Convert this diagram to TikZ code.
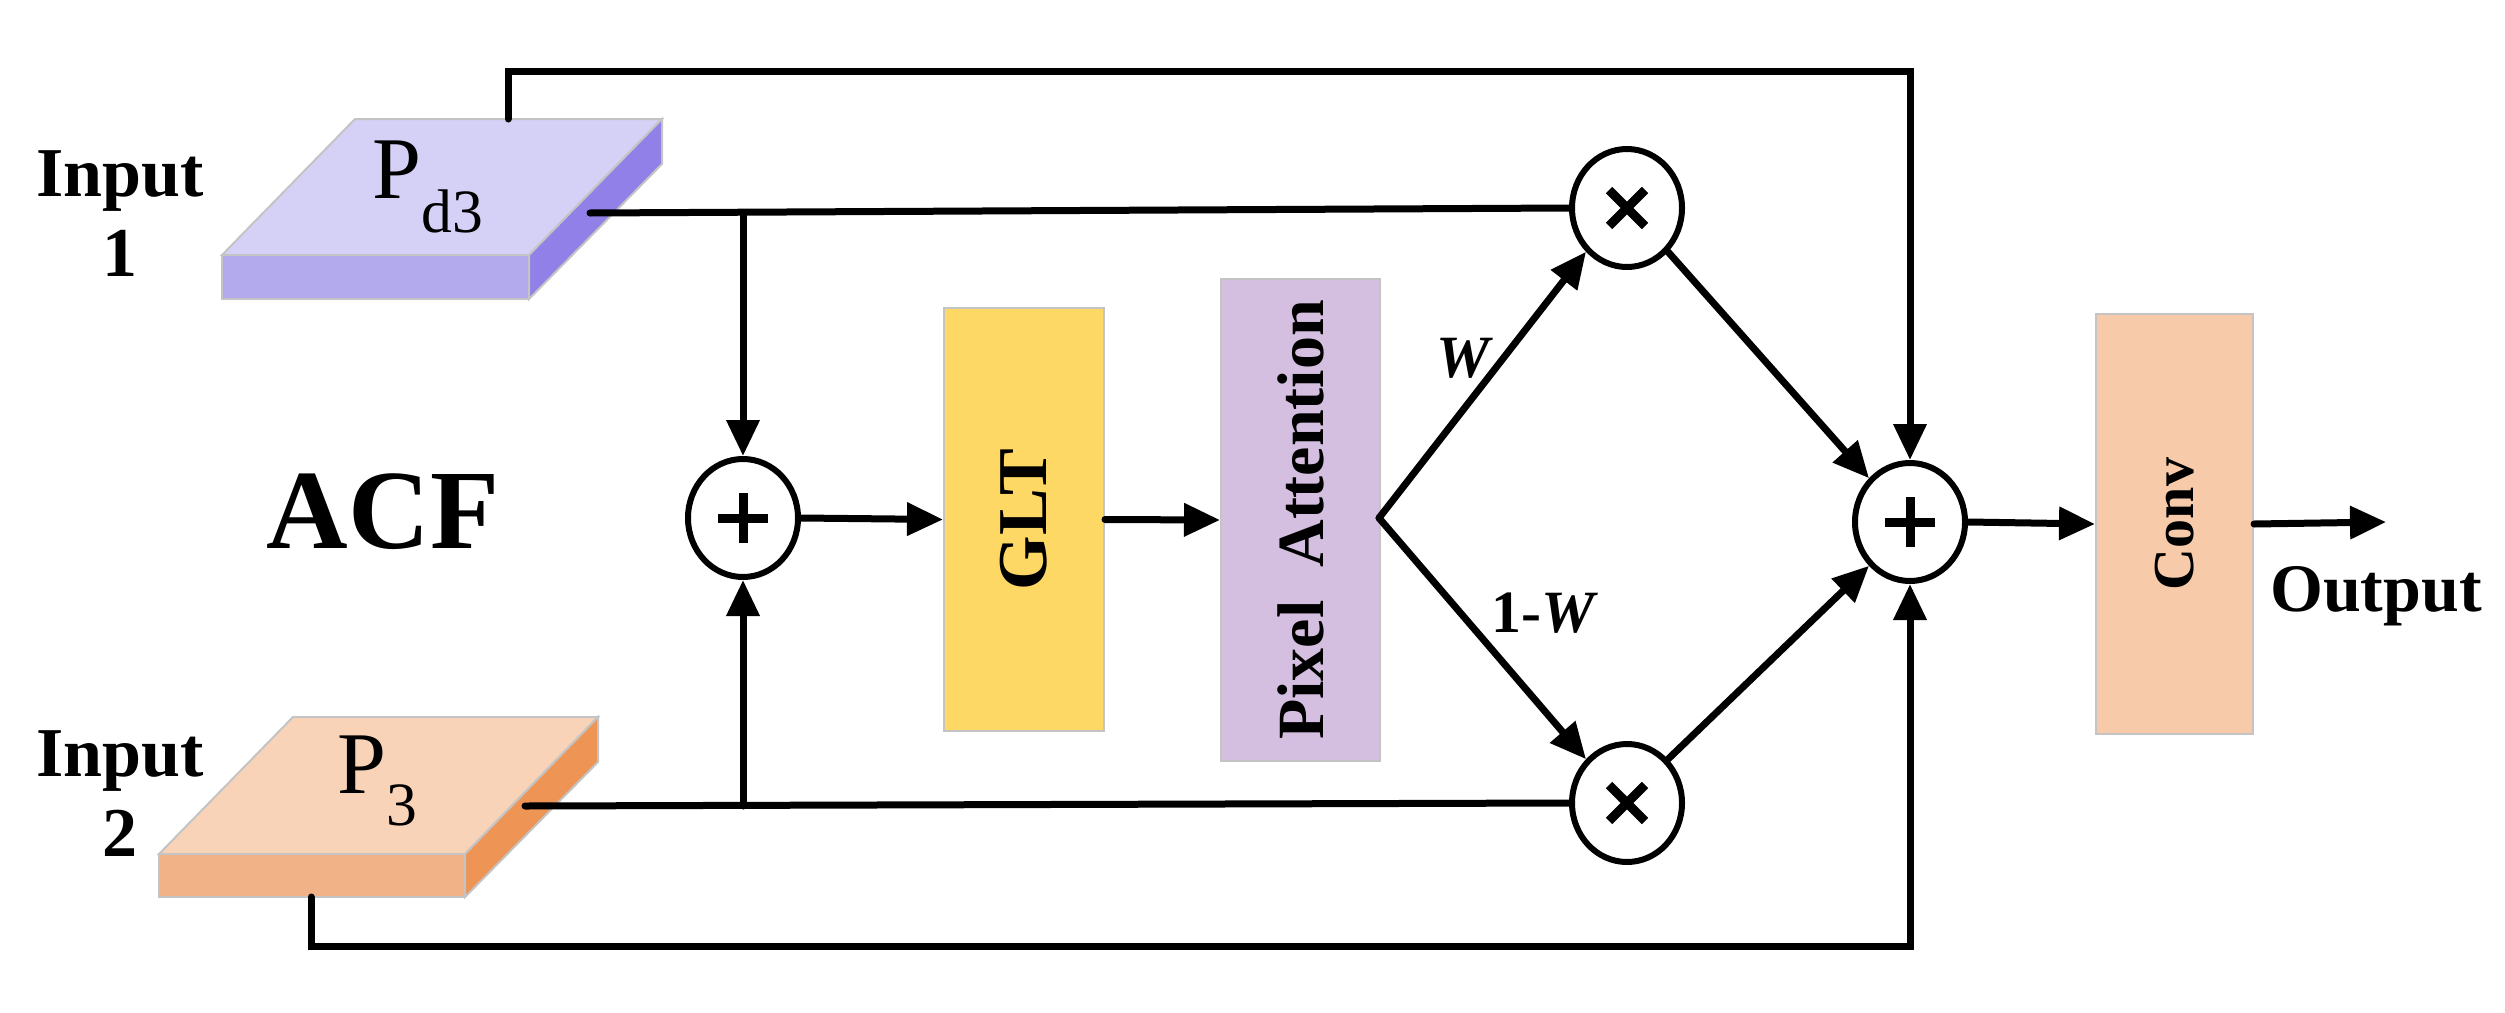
\documentclass[tikz,border=0pt]{standalone}
\usepackage{fontspec}
\setmainfont{Liberation Serif}
\usetikzlibrary{arrows.meta,shapes.geometric}
\definecolor{pdtop}{HTML}{D5D0F5}\definecolor{pdfront}{HTML}{B3AAEE}\definecolor{pdside}{HTML}{9080E8}
\definecolor{ptop}{HTML}{F8D3B8}\definecolor{pfront}{HTML}{F2B287}\definecolor{pside}{HTML}{EE9455}
\definecolor{glt}{HTML}{FDD865}\definecolor{pa}{HTML}{D4BFE0}\definecolor{conv}{HTML}{F7CBAA}
\definecolor{edge}{HTML}{C4C4C4}
\tikzset{
 ln/.style={line width=7pt,line cap=round,line join=miter},
 ar/.style={ln,-{Triangle[length=36pt,width=32pt]}},
 op/.style={ellipse,draw,line width=6pt,minimum width=110pt,minimum height=118pt,inner sep=0pt},
 plus/.style={op,path picture={\draw[line width=9pt]
   ([xshift=-25pt]path picture bounding box.center)--([xshift=25pt]path picture bounding box.center)
   ([yshift=-25pt]path picture bounding box.center)--([yshift=25pt]path picture bounding box.center);}},
 times/.style={op,path picture={\draw[line width=9pt]
   ([shift={(-18pt,-18pt)}]path picture bounding box.center)--([shift={(18pt,18pt)}]path picture bounding box.center)
   ([shift={(-18pt,18pt)}]path picture bounding box.center)--([shift={(18pt,-18pt)}]path picture bounding box.center);}},
 blk/.style={draw=edge,line width=2pt,inner sep=0pt,anchor=north west},
 bt/.style={font=\fontsize{70}{70}\selectfont\bfseries},
 lab/.style={font=\fontsize{70}{80}\selectfont\bfseries,align=center},
 face/.style={draw=edge,line width=2pt}
}
\begin{document}
\begin{tikzpicture}[x=1pt,y=-1pt]
\useasboundingbox (0,0) rectangle (2505,1012);
% slab Pd3
\filldraw[face,fill=pdtop] (355,119)--(662,119)--(529,255)--(222,255)--cycle;
\filldraw[face,fill=pdfront] (222,255) rectangle (529,299);
\filldraw[face,fill=pdside] (529,255)--(662,119)--(662,164)--(529,299)--cycle;
\node[font=\fontsize{88}{88}\selectfont] (pd3) at (428,187) {P\textsubscript{d3}};
% slab P3
\filldraw[face,fill=ptop] (293,717)--(598,717)--(465,854)--(159,854)--cycle;
\filldraw[face,fill=pfront] (159,854) rectangle (465,897);
\filldraw[face,fill=pside] (465,854)--(598,717)--(598,762)--(465,897)--cycle;
\node[font=\fontsize{88}{88}\selectfont] (p3) at (378,781) {P\textsubscript{3}};
\coordinate (o1) at (590,213); \coordinate (t1) at (508,119);
\coordinate (o2) at (525,806); \coordinate (b2) at (311,897);
% labels
\node[lab] (in1) at (120,214) {Input\\1};
\node[lab] (in2) at (120,794) {Input\\2};
\node[font=\fontsize{113}{113}\selectfont\bfseries] (acf) at (383,512) {ACF};
% ops
\node[plus] (p1) at (743,518) {};
\node[times] (x1) at (1627,208) {};
\node[times] (x2) at (1627,803) {};
\node[plus] (p2) at (1910,522) {};
% blocks
\node[blk,fill=glt,minimum width=160pt,minimum height=423pt] (glt) at (943,307) {};
\node[bt,rotate=90] at (glt.center) {GLT};
\node[blk,fill=pa,minimum width=159pt,minimum height=482pt] (pa) at (1220,278) {};
\node[bt,rotate=90,font=\fontsize{66}{66}\selectfont\bfseries] at (pa.center) {Pixel\ \ Attention};
\node[blk,fill=conv,minimum width=157pt,minimum height=420pt] (cv) at (2095,313) {};
\node[font=\fontsize{58}{58}\selectfont\bfseries,rotate=90] at (cv.center) {Conv};
\coordinate (pao) at (1379,518);
\coordinate (out) at (2386,522);
\node[font=\fontsize{68}{68}\selectfont\bfseries] (outl) at (2376,596) {Output};
\node[font=\fontsize{60}{60}\selectfont\bfseries\itshape] (wl) at (1463,358) {W};
\node[font=\fontsize{60}{60}\selectfont\bfseries] (wl2) at (1545,613) {1-\textit{W}};
% connectors
\draw[ln] (o1) -- (x1.west);
\draw[ar] (743,213) -- (p1.north);
\draw[ln] (o2) -- (x2.west);
\draw[ar] (743,806) -- (p1.south);
\draw[ar] (t1) -- (508,71) -- (1910,71) -- (p2.north);
\draw[ar] (b2) -- (311,946) -- (1910,946) -- (p2.south);
\draw[ar] (p1.east) -- (glt.west);
\draw[ar] (glt.east) -- (pa.west);
\draw[ar] (pao) -- (x1.south west);
\draw[ar] (pao) -- (x2.north west);
\draw[ar] (x1.south east) -- (p2.north west);
\draw[ar] (x2.north east) -- (p2.south west);
\draw[ar] (p2.east) -- (cv.west);
\draw[ar] (cv.east) -- (out);
\end{tikzpicture}
\end{document}
